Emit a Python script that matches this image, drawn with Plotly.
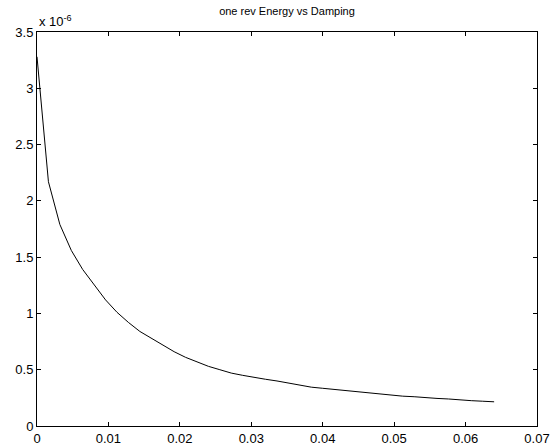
import plotly.graph_objects as go

damping = [0.0000, 0.0016, 0.0032, 0.0048, 0.0064, 0.0080, 0.0096, 0.0112, 0.0128, 0.0144,
           0.0160, 0.0176, 0.0192, 0.0208, 0.0224, 0.0240, 0.0256, 0.0272, 0.0288, 0.0304,
           0.0320, 0.0336, 0.0352, 0.0368, 0.0384, 0.0400, 0.0416, 0.0432, 0.0448, 0.0464,
           0.0480, 0.0496, 0.0512, 0.0528, 0.0544, 0.0560, 0.0576, 0.0592, 0.0608, 0.0624,
           0.0640]
# energy in units of 1e-6
energy = [3.28, 2.17, 1.79, 1.56, 1.39, 1.25, 1.12, 1.01, 0.92, 0.84,
          0.78, 0.72, 0.66, 0.61, 0.57, 0.53, 0.50, 0.47, 0.45, 0.43,
          0.415, 0.40, 0.38, 0.36, 0.345, 0.335, 0.325, 0.31, 0.30, 0.29,
          0.28, 0.27, 0.265, 0.26, 0.25, 0.245, 0.24, 0.23, 0.225, 0.22,
          0.215]

title_text = "one rev Energy vs Damping"
exponent_text = "x 10<sup>-6</sup>"

FONT = "Liberation Sans, Arial, sans-serif"

fig = go.Figure()
fig.add_trace(go.Scatter(x=damping, y=energy, mode="lines",
                         line=dict(color="black", width=1), showlegend=False,
                         hoverinfo="skip"))

axis_common = dict(showline=True, linecolor="black", linewidth=1, mirror="ticks",
                   ticks="inside", ticklen=4, tickcolor="black", tickwidth=1,
                   showgrid=False, zeroline=False, automargin=False,
                   tickfont=dict(family=FONT, size=13, color="black"))

fig.update_layout(
    width=553, height=448,
    margin=dict(l=37, r=16, t=32, b=22, autoexpand=False),
    paper_bgcolor="white", plot_bgcolor="white",
    title=dict(text=title_text, x=0.519, xanchor="center", y=0.983, yanchor="top",
               font=dict(family=FONT, size=11, color="black")),
    xaxis=dict(range=[0, 0.07], dtick=0.01, tick0=0, **axis_common),
    yaxis=dict(range=[0, 3.5], dtick=0.5, tick0=0, **axis_common),
    annotations=[dict(text=exponent_text, xref="paper", yref="paper", x=0, y=1,
                      xanchor="left", yanchor="bottom", showarrow=False, yshift=1,
                      font=dict(family=FONT, size=13, color="black"))],
)

fig.write_html("out.html", config={"displayModeBar": False},
               post_script="document.body.style.margin='0';document.body.style.overflow='hidden';")
